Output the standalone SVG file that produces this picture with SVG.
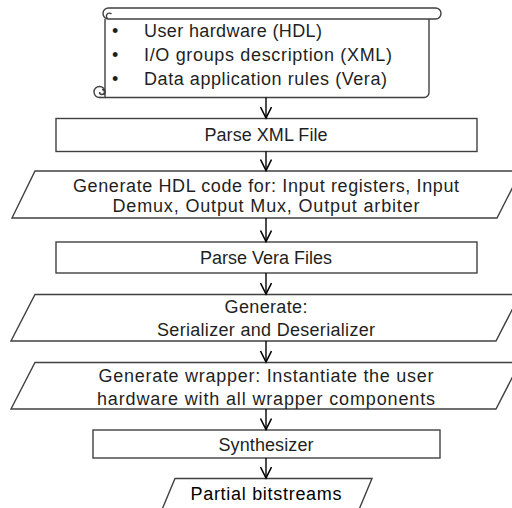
<svg xmlns="http://www.w3.org/2000/svg" width="512" height="508" viewBox="0 0 512 508">
<style>
.s{fill:#fff;stroke:#404040;stroke-width:1.4}
.t{font-family:"Liberation Sans",Arial,sans-serif;font-size:18px;fill:#1f1f1f}
.c{text-anchor:middle}
.a{stroke:#000;stroke-width:1.4;fill:none}
</style>
<defs>
<marker id="ah" markerUnits="userSpaceOnUse" markerWidth="14" markerHeight="14" refX="12" refY="6" orient="auto">
<path d="M1,0.5 L12,6 L1,11.5" fill="none" stroke="#000" stroke-width="1.6"/>
</marker>
</defs>
<rect width="512" height="508" fill="#fff"/>
<g id="input">
<path class="s" d="M105,19 V92 M105,97.5 H424 A5,5 0 0 0 429,92.5 V19"/>
<rect class="s" x="103" y="8" width="338" height="11" rx="5.5"/>
<path class="s" d="M108.5,19 A3,3 0 1 1 111.5,14"/>
<circle class="s" cx="99.5" cy="92" r="5.5"/>
<path class="s" fill="none" d="M99.5,97.5 H105 V92 M99.5,92 A2.5,2.5 0 1 0 102,89.5"/>
<text class="t" x="112" y="37">•</text>
<text class="t" x="144" y="37" textLength="178">User hardware (HDL)</text>
<text class="t" x="112" y="61">•</text>
<text class="t" x="144" y="61" textLength="248">I/O groups description (XML)</text>
<text class="t" x="112" y="85">•</text>
<text class="t" x="144" y="85" textLength="243">Data application rules (Vera)</text>
</g>
<g id="parsexml">
<rect class="s" x="56" y="118.5" width="421" height="33"/>
<text class="t c" x="266" y="141" textLength="123">Parse XML File</text>
</g>
<g id="genhdl">
<polygon class="s" points="35,171 521,171 497,218 12,218"/>
<text class="t c" x="266" y="192" textLength="386">Generate HDL code for: Input registers, Input</text>
<text class="t c" x="266" y="212" textLength="307">Demux, Output Mux, Output arbiter</text>
</g>
<g id="parsevera">
<rect class="s" x="56" y="242" width="421" height="31"/>
<text class="t c" x="266" y="264" textLength="132">Parse Vera Files</text>
</g>
<g id="genser">
<polygon class="s" points="35,294.5 520,294.5 496,341 11,341"/>
<text class="t c" x="266" y="313" textLength="83">Generate:</text>
<text class="t c" x="266" y="336" textLength="218">Serializer and Deserializer</text>
</g>
<g id="genwrap">
<polygon class="s" points="35,362.5 520,362.5 496,409 11,409"/>
<text class="t c" x="266" y="382" textLength="335">Generate wrapper: Instantiate the user</text>
<text class="t c" x="266" y="405" textLength="338">hardware with all wrapper components</text>
</g>
<g id="synth">
<rect class="s" x="93" y="430" width="347" height="28"/>
<text class="t c" x="266" y="451" textLength="95">Synthesizer</text>
</g>
<g id="partial">
<polygon class="s" points="175,478.5 372,478.5 358,512 161,512"/>
<text class="t c" x="266" y="500" textLength="151" style="fill:#000">Partial bitstreams</text>
</g>
<g id="connectors">
<line class="a" x1="266" y1="97.5" x2="266" y2="118" marker-end="url(#ah)"/>
<line class="a" x1="266" y1="151.5" x2="266" y2="170.5" marker-end="url(#ah)"/>
<line class="a" x1="266" y1="218" x2="266" y2="241.5" marker-end="url(#ah)"/>
<line class="a" x1="266" y1="273" x2="266" y2="294" marker-end="url(#ah)"/>
<line class="a" x1="266" y1="341" x2="266" y2="362" marker-end="url(#ah)"/>
<line class="a" x1="266" y1="409" x2="266" y2="429.5" marker-end="url(#ah)"/>
<line class="a" x1="266" y1="458" x2="266" y2="478" marker-end="url(#ah)"/>
</g>
</svg>
